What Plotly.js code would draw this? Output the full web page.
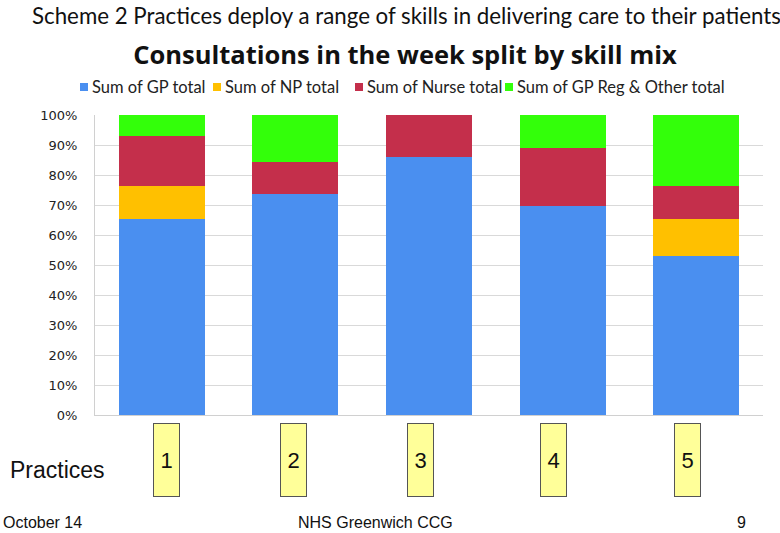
<!DOCTYPE html>
<html>
<head>
<meta charset="utf-8">
<script src="https://cdn.plot.ly/plotly-3.0.1.min.js"></script>
<style>html,body{margin:0;padding:0;background:#fff;}#chart{width:780px;height:533px;}</style>
</head>
<body>
<div id="chart"></div>
<script>
// ---- data ----
const practices = ["1", "2", "3", "4", "5"];
const gpTotal = [65.5, 73.8, 85.9, 69.6, 53.0];
const npTotal = [11.0, 0, 0, 0, 12.2];
const nurseTotal = [16.4, 10.4, 14.1, 19.4, 11.1];
const gpRegOtherTotal = [7.1, 15.8, 0, 11.0, 23.7];
const seriesNames = ["Sum of GP total", "Sum of NP total", "Sum of Nurse total", "Sum of GP Reg & Other total"];
const yTickVals = [0, 10, 20, 30, 40, 50, 60, 70, 80, 90, 100];
const yTickText = ["0%", "10%", "20%", "30%", "40%", "50%", "60%", "70%", "80%", "90%", "100%"];

// ---- layout helpers ----
const L = 95, R = 763, T = 115, B = 415;
const px = x => (x - L) / (R - L);
const py = y => (B - y) / (B - T);
const colors = ["#4a8ff0", "#ffc000", "#c42f4b", "#33ff0a"];
const boxShift = [5, -2, -9, -9, -9];
const legendX = [80, 213, 355, 505];

const values = [gpTotal, npTotal, nurseTotal, gpRegOtherTotal];
const traces = values.map((v, i) => ({
  type: "bar",
  x: practices,
  y: v,
  name: seriesNames[i],
  marker: {color: colors[i], line: {width: 0}},
  hoverinfo: "name+y"
}));

const annotations = [
  {text: "Scheme 2 Practices deploy a range of skills in delivering care to their patients",
   xref: "paper", yref: "paper", x: px(406), y: py(16), xanchor: "center", yanchor: "middle",
   showarrow: false, font: {family: "Lato, 'Open Sans', sans-serif", size: 22.3, color: "#111"}},
  {text: "Practices", xref: "paper", yref: "paper", x: px(8), y: py(470), xanchor: "left", yanchor: "middle",
   showarrow: false, font: {family: "'Liberation Sans', Arial, sans-serif", size: 23, color: "#111"}},
  {text: "October 14", xref: "paper", yref: "paper", x: px(1), y: py(522), xanchor: "left", yanchor: "middle",
   showarrow: false, font: {family: "'Liberation Sans', Arial, sans-serif", size: 16, color: "#111"}},
  {text: "NHS Greenwich CCG", xref: "paper", yref: "paper", x: px(375), y: py(522), xanchor: "center", yanchor: "middle",
   showarrow: false, font: {family: "'Liberation Sans', Arial, sans-serif", size: 16, color: "#111"}},
  {text: "9", xref: "paper", yref: "paper", x: px(741.5), y: py(522), xanchor: "center", yanchor: "middle",
   showarrow: false, font: {family: "'Liberation Sans', Arial, sans-serif", size: 16, color: "#111"}}
];
practices.forEach((p, i) => {
  annotations.push({
    text: p, xref: "x", yref: "paper", x: i, y: py(460), xshift: boxShift[i],
    xanchor: "center", yanchor: "middle", showarrow: false,
    width: 25, height: 72, borderpad: 0, borderwidth: 1,
    bgcolor: "#ffff99", bordercolor: "#555",
    font: {family: "'Liberation Sans', Arial, sans-serif", size: 22, color: "#111"}
  });
});

// custom legend (compact, like the original)
const shapes = [];
seriesNames.forEach((n, i) => {
  shapes.push({type: "rect", xref: "paper", yref: "paper",
    x0: px(legendX[i]), x1: px(legendX[i] + 8), y0: py(91), y1: py(83),
    fillcolor: colors[i], line: {width: 0}});
  annotations.push({text: n, xref: "paper", yref: "paper", x: px(legendX[i] + 10), y: py(87),
    xanchor: "left", yanchor: "middle", showarrow: false,
    font: {family: "Lato, 'Open Sans', sans-serif", size: 16.5, color: "#222"}});
});

const layout = {
  width: 780, height: 533,
  margin: {l: L, r: 780 - R, t: T, b: 533 - B, pad: 0},
  paper_bgcolor: "#fff", plot_bgcolor: "#fff",
  barmode: "stack", bargap: 0.356,
  title: {text: "<b>Consultations in the week split by skill mix</b>",
          x: 405 / 780, xanchor: "center", y: 1 - 55 / 533, yanchor: "middle", yref: "container",
          font: {family: "'Open Sans', Lato, sans-serif", size: 25.5, color: "#111"}},
  showlegend: false,
  xaxis: {type: "category", range: [-0.5, 4.5], showticklabels: false, ticks: "",
          showgrid: false, zeroline: false, showline: true, linecolor: "#d0d0d0", linewidth: 1, fixedrange: true},
  yaxis: {range: [0, 100], tickvals: yTickVals, ticktext: yTickText, ticks: "",
          showgrid: true, gridcolor: "#d9d9d9", gridwidth: 1, zeroline: false,
          showline: true, linecolor: "#d0d0d0", linewidth: 1, ticklabelstandoff: 14,
          tickfont: {family: "'DejaVu Sans', sans-serif", size: 13, color: "#222"}, fixedrange: true},
  shapes: shapes,
  annotations: annotations
};

Plotly.newPlot("chart", traces, layout, {displayModeBar: false, staticPlot: true});
</script>
</body>
</html>
